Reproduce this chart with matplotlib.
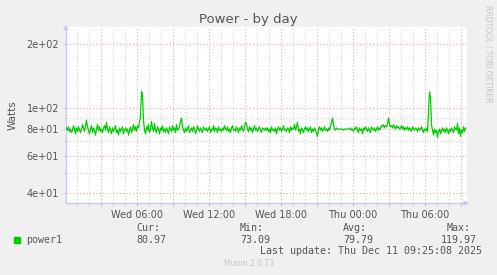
import matplotlib
matplotlib.use("Agg")
import matplotlib.pyplot as plt
import numpy as np

# power1 samples, 5 minute steps starting Wed 00:05
power1 = [
    81, 79, 82, 78, 80, 77, 79, 83, 80, 76, 81, 78, 82, 79, 77, 80, 84, 81, 78, 83,
    88, 82, 79, 76, 80, 83, 77, 81, 79, 75, 80, 84, 79, 82, 78, 80, 77, 81, 83, 79,
    86, 80, 77, 82, 79, 76, 81, 78, 80, 83, 77, 79, 75, 81, 78, 80, 82, 76, 79, 81,
    78, 80, 75, 79, 82, 77, 80, 84, 79, 82, 78, 83, 81, 86, 92, 119.97, 116, 88, 79, 76,
    82, 79, 84, 77, 80, 87, 81, 78, 85, 79, 77, 82, 80, 76, 81, 79, 83, 78, 80, 77,
    81, 79, 76, 82, 80, 78, 83, 79, 81, 77, 84, 79, 80, 82, 87, 90, 82, 79, 77, 81,
    78, 80, 83, 77, 79, 81, 78, 82, 80, 76, 79, 83, 80, 78, 81, 79, 77, 82, 80, 79,
    81, 78, 80, 82, 77, 80, 79, 83, 78, 81, 80, 77, 82, 79, 80, 78, 81, 79, 83, 80,
    79, 82, 78, 80, 77, 81, 83, 79, 80, 78, 82, 80, 77, 81, 79, 83, 80, 78, 82, 86,
    85, 80, 78, 82, 79, 81, 77, 80, 83, 79, 81, 78, 80, 82, 79, 77, 81, 80, 79, 81,
    79, 81, 78, 80, 77, 82, 79, 80, 78, 81, 76, 80, 82, 79, 81, 78, 80, 83, 79, 80,
    78, 81, 80, 77, 82, 79, 81, 80, 84, 79, 82, 86, 78, 80, 76, 81, 79, 77, 80, 82,
    79, 81, 78, 80, 82, 77, 80, 78, 81, 79, 77, 74, 80, 82, 79, 81, 78, 80, 82, 79,
    80, 78, 81, 79, 83, 86, 90, 84, 80, 79, 81, 80, 80, 80, 80, 80, 80, 79, 80, 80,
    80, 80, 80, 80, 81, 79, 80, 78, 81, 80, 82, 79, 77, 81, 79, 80, 76, 81, 79, 82,
    80, 78, 81, 79, 77, 82, 80, 79, 81, 78, 80, 82, 79, 81, 80, 83, 82, 84, 81, 83,
    82, 85, 90, 84, 82, 83, 81, 84, 82, 80, 83, 81, 82, 80, 81, 83, 80, 82, 79, 81,
    80, 82, 79, 81, 80, 78, 82, 80, 79, 81, 80, 78, 81, 79, 80, 82, 79, 77, 80, 79,
    81, 78, 95, 119.5, 112, 84, 79, 75, 80, 77, 79, 73.09, 78, 80, 76, 79, 81, 78, 80, 77,
    81, 79, 76, 80, 78, 81, 79, 77, 82, 80, 79, 85, 76, 81, 74, 79, 77, 82, 78, 80.97,
]
hours = 0.083 + (np.arange(len(power1)) + 0.5) / 12.0   # hours since Wed 00:00

ytick_vals = [40, 60, 80, 100, 200]
ytick_labels = ["4e+01", "6e+01", "8e+01", "1e+02", "2e+02"]
yminor_vals = [50, 70, 90]
xlabel_hours = [6, 12, 18, 24, 30]
xlabel_text = ["Wed 06:00", "Wed 12:00", "Wed 18:00", "Thu 00:00", "Thu 06:00"]

stat_names = ["Cur:", "Min:", "Avg:", "Max:"]
stat_values = ["80.97", "73.09", "79.79", "119.97"]

bg = "#F0F0F0"
axis_col = "#C8C8F0"
major_col = "#EBA7A7"
minor_col = "#D0D0D0"
text_col = "#555555"

fig = plt.figure(figsize=(4.97, 2.75), dpi=100, facecolor=bg)
ax = fig.add_axes([66/497, 1-203/275, 401/497, 176/275])
ax.set_facecolor("white")

ax.plot(hours, power1, color="#00CC00", lw=0.9, zorder=3)

ax.set_yscale("log")
ax.set_ylim(36.1, 240)
ax.set_xlim(0.083, 33.5)

ax.set_yticks(ytick_vals)
ax.set_yticklabels(ytick_labels)
ax.set_yticks(yminor_vals, minor=True)
ax.yaxis.set_minor_formatter(matplotlib.ticker.NullFormatter())

xmajor = np.arange(3, 34, 3)
ax.set_xticks(xmajor)
ax.set_xticklabels([xlabel_text[xlabel_hours.index(h)] if h in xlabel_hours else "" for h in xmajor])
ax.set_xticks([h for h in range(1, 34) if h % 3], minor=True)

ax.grid(True, which="major", color=major_col, ls=(0, (1, 2)), lw=0.8, zorder=1)
ax.grid(True, which="minor", color=minor_col, ls=(0, (1, 2)), lw=0.8, zorder=1)

ax.tick_params(which="both", length=2, width=0.8, colors=axis_col, labelcolor=text_col,
               labelsize=7, pad=3)
ax.tick_params(axis="x", which="major", colors=major_col, labelcolor=text_col)

for s in ["top", "right"]:
    ax.spines[s].set_visible(False)
for s in ["left", "bottom"]:
    ax.spines[s].set_color(axis_col)
    ax.spines[s].set_linewidth(1)

ax.annotate("", xy=(0, 1.03), xytext=(0, 0.97), xycoords="axes fraction",
            arrowprops=dict(arrowstyle="-|>", color=axis_col, lw=0.8, mutation_scale=7),
            annotation_clip=False)
ax.annotate("", xy=(1.012, 0), xytext=(0.99, 0), xycoords="axes fraction",
            arrowprops=dict(arrowstyle="-|>", color=axis_col, lw=0.8, mutation_scale=7),
            annotation_clip=False)

ax.set_ylabel("Watts", fontsize=7.5, color=text_col, labelpad=6)

fig.text(0.5, 1-19.5/275, "Power - by day", ha="center", va="center",
         fontsize=9.5, color=text_col)
fig.text(488/497, 1-5/275, "RRDTOOL / TOBI OETIKER", rotation=270, ha="center",
         va="top", fontsize=5.5, color="#C4C4C4")

mono = "DejaVu Sans Mono"
fig.patches.append(matplotlib.patches.Rectangle((14/497, 1-243/275), 6/497, 6/275,
                   transform=fig.transFigure, color="#00CC00"))
fig.text(26/497, 1-240/275, "power1", ha="left", va="center", family=mono,
         fontsize=7.2, color=text_col)
stat_x = [136, 240, 343, 441]
head_x = [136, 240, 343, 447]
for hx, vx, name, val in zip(head_x, stat_x, stat_names, stat_values):
    fig.text(hx/497, 1-228/275, name, ha="left", va="center", family=mono,
             fontsize=7.2, color=text_col)
    fig.text(vx/497, 1-240/275, val, ha="left", va="center", family=mono,
             fontsize=7.2, color=text_col)
fig.text(482/497, 1-251/275, "Last update: Thu Dec 11 09:25:08 2025", ha="right",
         va="center", family=mono, fontsize=7.2, color=text_col)
fig.text(0.5, 1-264/275, "Munin 2.0.73", ha="center", va="center",
         fontsize=5.5, color="#C4C4C4")

fig.savefig("out.png", dpi=100, facecolor=bg)
